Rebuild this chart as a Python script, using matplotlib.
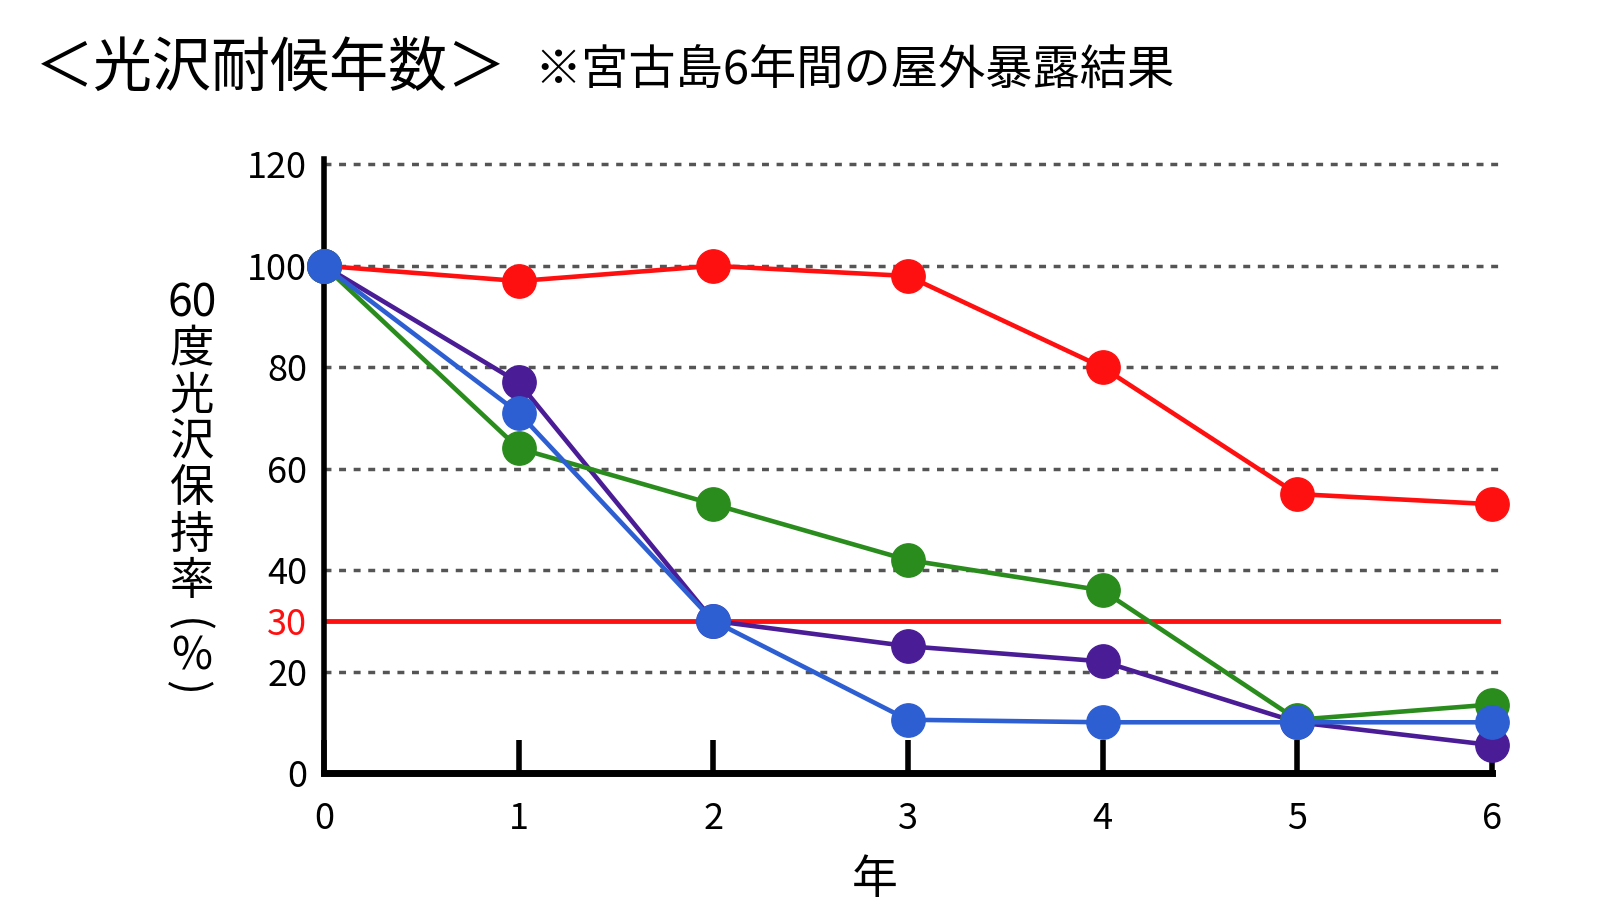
import matplotlib.pyplot as plt

plt.rcParams['font.family'] = ['Noto Sans CJK JP', 'DejaVu Sans']

years = [0, 1, 2, 3, 4, 5, 6]
red_vals = [100, 97, 100, 98, 80, 55, 53]
purple_vals = [100, 77, 30, 25, 22, 10, 5.5]
green_vals = [100, 64, 53, 42, 36, 10.5, 13.5]
blue_vals = [100, 71, 30, 10.5, 10, 10, 10]
limit = 30  # 基準線

yticks = [0, 20, 30, 40, 60, 80, 100, 120]
ylabel_chars = ['60', '度', '光', '沢', '保', '持', '率']

fig = plt.figure(figsize=(16, 9.21), dpi=100)
ax = fig.add_axes([0.2025, 0.1607, 0.7335, 0.6663])

# dotted grid
for g in [20, 40, 60, 80, 100, 120]:
    ax.plot([0, 6.03], [g, g], color='#555555', lw=2.5, ls=(0, (2, 2.2)), zorder=1, clip_on=False)

ax.plot([0, 6.03], [limit, limit], color='#ff1010', lw=3.5, zorder=2, clip_on=False)

series = [(red_vals, '#ff1010'), (purple_vals, '#4a1c96'),
          (green_vals, '#2a8c1c'), (blue_vals, '#2d5fd3')]
for vals, c in series:
    ax.plot(years, vals, color=c, lw=3.3, marker='o', ms=24, zorder=3, clip_on=False)

ax.set_xlim(0, 6.03)
ax.set_ylim(0, 121)
for s in ['top', 'right']:
    ax.spines[s].set_visible(False)
ax.spines['left'].set_linewidth(4)
ax.spines['bottom'].set_linewidth(5)
ax.spines['bottom'].set_bounds(0, 6)
ax.spines['left'].set_bounds(0, 121)

ax.set_xticks(years)
ax.set_xticklabels([str(y) for y in years], fontsize=26)
ax.tick_params(axis='x', direction='in', length=24, width=4, pad=20)
ax.set_yticks(yticks)
ax.set_yticklabels([str(t) for t in yticks], fontsize=26)
ax.tick_params(axis='y', length=0, pad=12)
ax.get_yticklabels()[2].set_color('#ff1010')

ax.set_xlabel('年', fontsize=33)
ax.xaxis.set_label_coords(0.469, -0.135)

# vertical y label (縦書き)
y0 = 0.671
for i, ch in enumerate(ylabel_chars):
    fig.text(0.120, y0 - i * 0.0503, ch, fontsize=32, ha='center', va='center')
fig.text(0.1167, 0.321, '(', fontsize=32, rotation=-90, ha='center', va='center')
fig.text(0.120, 0.287, '%', fontsize=32, ha='center', va='center')
fig.text(0.1167, 0.253, ')', fontsize=32, rotation=-90, ha='center', va='center')

fig.text(0.022, 0.925, '＜光沢耐候年数＞', fontsize=42.5, va='center')
fig.text(0.334, 0.922, '※宮古島6年間の屋外暴露結果', fontsize=34, va='center')

fig.savefig('out.png', dpi=100)
